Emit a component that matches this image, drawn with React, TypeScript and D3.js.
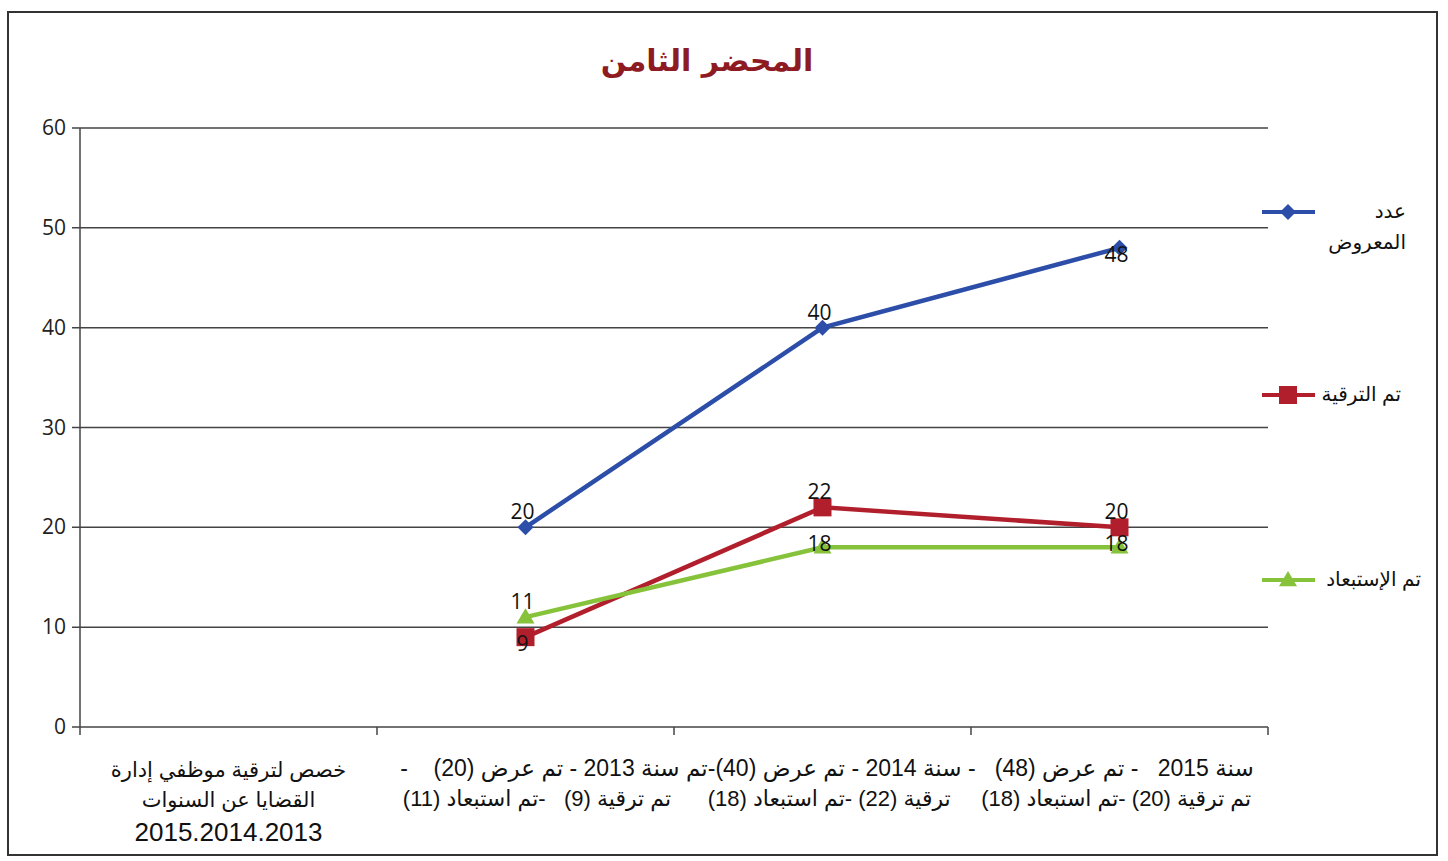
import React from "react";
import * as d3 from "d3";

const categories = [
  "cat0",
  "2013",
  "2014",
  "2015",
];
const firstCategoryLabel = [
  "خصص لترقية موظفي إدارة",
  "القضايا عن السنوات",
  "2015.2014.2013",
];
const spanLabelLines = [
  "سنة 2015   - تم عرض (48)   - سنة 2014 - تم عرض (40)-تم سنة 2013 - تم عرض (20)    -",
  "تم ترقية (20) -تم استبعاد (18)     ترقية (22) -تم استبعاد (18)      تم ترقية (9)   -تم استبعاد (11)",
];
const seriesNames = ["عدد المعروض", "تم الترقية", "تم الإستبعاد"];
const offeredValues = [null, 20, 40, 48];
const promotedValues = [null, 9, 22, 20];
const excludedValues = [null, 11, 18, 18];
const yTicks = [0, 10, 20, 30, 40, 50, 60];
const title = "المحضر الثامن";

const W = 1448;
const H = 861;
const plot = { left: 80, right: 1268, top: 128, bottom: 727 };

const colors = ["#2c4ea8", "#b21f2c", "#86c23a"];
const labelPlacement = [
  [null, "above", "above", "below"],
  [null, "below", "above", "above"],
  [null, "above", "center", "center"],
];

export default function App() {
  const x = d3
    .scaleBand<string>()
    .domain(categories)
    .range([plot.left, plot.right])
    .paddingInner(0)
    .paddingOuter(0);
  const y = d3.scaleLinear().domain([0, 60]).range([plot.bottom, plot.top]);
  const cx = (i: number) => (x(categories[i]) as number) + x.bandwidth() / 2;

  const series = [offeredValues, promotedValues, excludedValues];
  const line = d3
    .line<[number, number]>()
    .x((d) => d[0])
    .y((d) => d[1]);

  const marker = (s: number, px: number, py: number, key: string) => {
    const c = colors[s];
    if (s === 0) {
      const r = 8;
      return (
        <path
          key={key}
          d={`M${px},${py - r}L${px + r},${py}L${px},${py + r}L${px - r},${py}Z`}
          fill={c}
        />
      );
    }
    if (s === 1) {
      return <rect key={key} x={px - 9} y={py - 9} width={18} height={18} fill={c} />;
    }
    const r = 9;
    return (
      <path
        key={key}
        d={`M${px},${py - r}L${px + r},${py + r * 0.7}L${px - r},${py + r * 0.7}Z`}
        fill={c}
      />
    );
  };

  const boundaries = d3.range(categories.length + 1).map((i) =>
    i < categories.length ? (x(categories[i]) as number) : plot.right
  );

  const legendRows = [
    { y: 212, lines: ["عدد", "المعروض"], textRight: 1406 },
    { y: 395, lines: [seriesNames[1]], textRight: 1401 },
    { y: 580, lines: [seriesNames[2]], textRight: 1421 },
  ];

  const pre = { whiteSpace: "pre" as const };

  return (
    <svg
      width={W}
      height={H}
      style={{ position: "absolute", left: 0, top: 0, background: "#fff" }}
    >
      <rect x={0} y={0} width={W} height={H} fill="#fff" />
      <rect x={8} y={12} width={1429} height={843} fill="none" stroke="#333" strokeWidth={2} />

      <text
        x={707}
        y={71}
        textAnchor="middle"
        direction="rtl"
        fontFamily="'DejaVu Sans', sans-serif"
        fontWeight="bold"
        fontSize={30}
        fill="#8e1a22"
      >
        {title}
      </text>

      {/* gridlines & y ticks */}
      {yTicks.map((t) => (
        <g key={t}>
          <line
            x1={plot.left - 8}
            x2={plot.right}
            y1={y(t)}
            y2={y(t)}
            stroke="#444"
            strokeWidth={1.5}
          />
          <text
            x={66}
            y={y(t) + 7}
            textAnchor="end"
            fontFamily="'Open Sans', sans-serif"
            fontSize={21}
            fill="#222"
          >
            {t}
          </text>
        </g>
      ))}
      <line x1={plot.left} x2={plot.left} y1={plot.top} y2={plot.bottom} stroke="#444" strokeWidth={1.5} />
      {boundaries.map((b, i) => (
        <line key={i} x1={b} x2={b} y1={plot.bottom} y2={plot.bottom + 8} stroke="#444" strokeWidth={1.5} />
      ))}

      {/* series lines */}
      {series.map((vals, s) => {
        const pts = vals
          .map((v, i) => (v == null ? null : ([cx(i), y(v)] as [number, number])))
          .filter((p): p is [number, number] => p !== null);
        return (
          <path key={s} d={line(pts) as string} fill="none" stroke={colors[s]} strokeWidth={4.5} />
        );
      })}
      {series.map((vals, s) =>
        vals.map((v, i) => (v == null ? null : marker(s, cx(i), y(v), `m${s}-${i}`)))
      )}
      {series.map((vals, s) =>
        vals.map((v, i) => {
          if (v == null) return null;
          const pl = labelPlacement[s][i];
          const dy = pl === "above" ? -8 : pl === "below" ? 14 : 4;
          return (
            <text
              key={`l${s}-${i}`}
              x={cx(i) - 3}
              y={y(v) + dy}
              textAnchor="middle"
              fontFamily="'Open Sans', sans-serif"
              fontSize={21}
              fill="#111"
            >
              {v}
            </text>
          );
        })
      )}

      {/* x labels */}
      {firstCategoryLabel.map((t, i) => (
        <text
          key={i}
          x={cx(0)}
          y={i === 2 ? 841 : 777 + i * 30}
          textAnchor="middle"
          direction="rtl"
          fontFamily="'Liberation Sans', 'DejaVu Sans', sans-serif"
          fontSize={i === 2 ? 26 : 21}
          fill="#111"
        >
          {t}
        </text>
      ))}
      {spanLabelLines.map((t, i) => (
        <text
          key={i}
          x={827}
          y={776 + i * 30}
          textAnchor="middle"
          direction="rtl"
          style={pre}
          fontFamily="'Liberation Sans', 'DejaVu Sans', sans-serif"
          fontSize={i === 0 ? 23 : 22}
          fill="#111"
        >
          {t}
        </text>
      ))}

      {/* legend */}
      {legendRows.map((r, s) => (
        <g key={s}>
          <line x1={1262} x2={1315} y1={r.y} y2={r.y} stroke={colors[s]} strokeWidth={4} />
          {marker(s, 1288, r.y, `lg${s}`)}
          {r.lines.map((t, j) => (
            <text
              key={j}
              x={r.textRight}
              y={r.y + 6 + j * 31}
              textAnchor="end"
              fontFamily="'Liberation Sans', 'DejaVu Sans', sans-serif"
              fontSize={20}
              fill="#111"
            >
              {t}
            </text>
          ))}
        </g>
      ))}
    </svg>
  );
}
